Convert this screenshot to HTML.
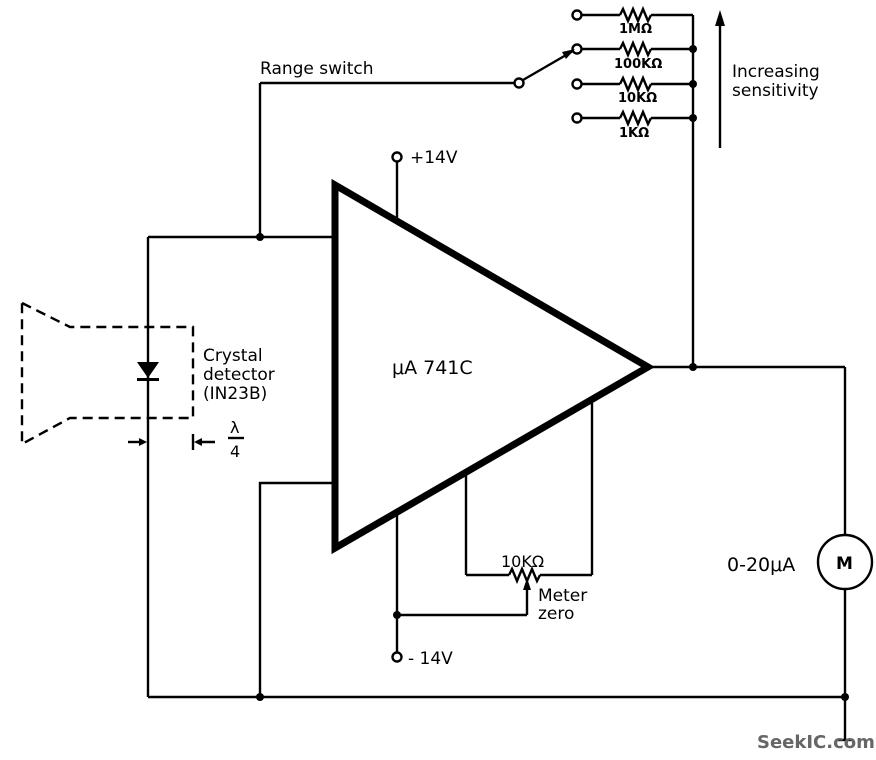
<!DOCTYPE html>
<html><head><meta charset="utf-8"><style>
html,body{margin:0;padding:0;background:#fff}
svg{display:block}
text{font-family:"DejaVu Sans","Liberation Sans",sans-serif;fill:#000}
</style></head><body>
<svg width="876" height="760" viewBox="0 0 876 760" xmlns="http://www.w3.org/2000/svg">
<g stroke="#000" stroke-width="2.4" fill="none">
<polygon points="335,185 335,548 648,367" stroke-width="7" stroke-linejoin="miter"/>
<line x1="648" y1="367" x2="845" y2="367"/>
<line x1="693" y1="15" x2="693" y2="367"/>
<g>
<line x1="581" y1="15" x2="620" y2="15"/><polyline points="620,15 623,9 628,21 633,9 638,21 643,9 648,21 651,15"/><line x1="651" y1="15" x2="693" y2="15"/>
<line x1="581" y1="49" x2="620" y2="49"/><polyline points="620,49 623,43 628,55 633,43 638,55 643,43 648,55 651,49"/><line x1="651" y1="49" x2="693" y2="49"/>
<line x1="581" y1="84" x2="620" y2="84"/><polyline points="620,84 623,78 628,90 633,78 638,90 643,78 648,90 651,84"/><line x1="651" y1="84" x2="693" y2="84"/>
<line x1="581" y1="118" x2="620" y2="118"/><polyline points="620,118 623,112 628,124 633,112 638,124 643,112 648,124 651,118"/><line x1="651" y1="118" x2="693" y2="118"/>
</g>
<circle cx="577" cy="15" r="4.5"/><circle cx="577" cy="49" r="4.5"/><circle cx="577" cy="84" r="4.5"/><circle cx="577" cy="118" r="4.5"/>
<line x1="260" y1="83" x2="514" y2="83"/>
<circle cx="519" cy="83" r="4.5"/>
<line x1="523" y1="80" x2="573" y2="51"/>
<line x1="260" y1="83" x2="260" y2="237"/>
<line x1="148" y1="237" x2="335" y2="237"/>
<line x1="148" y1="237" x2="148" y2="697"/>
<line x1="720" y1="22" x2="720" y2="148"/>
<circle cx="397" cy="157" r="4.5"/>
<line x1="397" y1="161" x2="397" y2="220"/>
<line x1="397" y1="512" x2="397" y2="652"/>
<circle cx="397" cy="657" r="4.5"/>
<line x1="397" y1="615" x2="527" y2="615"/>
<line x1="527" y1="615" x2="527" y2="590"/>
<line x1="466" y1="472" x2="466" y2="575"/>
<line x1="466" y1="575" x2="509" y2="575"/>
<polyline points="509,575 512,569 517,581 522,569 527,581 532,569 537,581 540,575"/>
<line x1="540" y1="575" x2="592" y2="575"/>
<line x1="592" y1="575" x2="592" y2="399"/>
<polyline points="335,483 260,483 260,697"/>
<line x1="148" y1="697" x2="845" y2="697"/>
<line x1="845" y1="367" x2="845" y2="535"/>
<circle cx="845" cy="562" r="27"/>
<line x1="845" y1="589" x2="845" y2="740"/>
<line x1="838" y1="740" x2="852" y2="740"/>
<polygon points="22,303 70,327 193,327 193,418 70,418 22,444" stroke-dasharray="10,6"/>
<line x1="128" y1="442" x2="142" y2="442"/>
<line x1="193" y1="434" x2="193" y2="450"/>
<line x1="197" y1="442" x2="215" y2="442"/>
<line x1="228" y1="438" x2="244" y2="438"/>
</g>
<g fill="#000">
<circle cx="693" cy="49" r="4"/><circle cx="693" cy="84" r="4"/><circle cx="693" cy="118" r="4"/>
<circle cx="693" cy="367" r="4"/><circle cx="260" cy="237" r="4"/><circle cx="260" cy="697" r="4"/>
<circle cx="845" cy="697" r="4"/><circle cx="397" cy="615" r="4"/>
<polygon points="575,49 562,52 566,59"/>
<polygon points="720,10 715,26 725,26"/>
<polygon points="527,578 523,590 531,590"/>
<polygon points="137,362 159,362 148,378"/>
<rect x="137" y="378" width="22" height="3"/>
<polygon points="147,442 139,438 139,446"/>
<polygon points="194,442 202,438 202,446"/>
<text x="260" y="74" font-size="17">Range switch</text>
<text x="619" y="33" font-size="13" font-weight="bold">1MΩ</text>
<text x="614" y="68" font-size="13" font-weight="bold">100KΩ</text>
<text x="618" y="102" font-size="13" font-weight="bold">10KΩ</text>
<text x="619" y="137" font-size="13" font-weight="bold">1KΩ</text>
<text x="732" y="77" font-size="17">Increasing</text>
<text x="732" y="96" font-size="17">sensitivity</text>
<text x="410" y="163" font-size="17">+14V</text>
<text x="408" y="664" font-size="17">- 14V</text>
<text x="392" y="374" font-size="19">μA 741C</text>
<text x="203" y="361" font-size="17">Crystal</text>
<text x="203" y="380" font-size="17">detector</text>
<text x="203" y="399" font-size="17">(IN23B)</text>
<text x="230" y="433" font-size="16">λ</text>
<text x="230" y="457" font-size="16">4</text>
<text x="501" y="567" font-size="16">10KΩ</text>
<text x="538" y="601" font-size="17">Meter</text>
<text x="538" y="619" font-size="17">zero</text>
<text x="727" y="571" font-size="19">0-20μA</text>
<text x="836" y="569" font-size="17" font-weight="bold">M</text>
<text x="757" y="748" font-size="18" font-weight="bold" style="fill:#666">SeekIC.com</text>
</g>
</svg>
</body></html>
